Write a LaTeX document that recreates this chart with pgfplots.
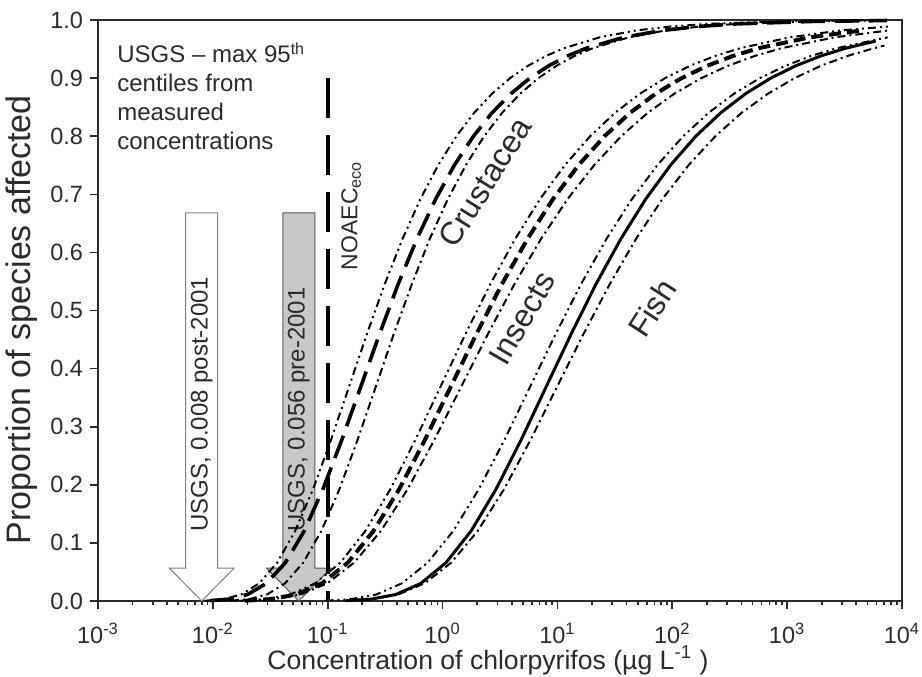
\documentclass[border=0pt]{standalone}
\usepackage{fontspec}
\setmainfont{Liberation Sans}
\usepackage{pgfplots}
\pgfplotsset{compat=1.18}
\usepackage{pgfplotstable}

\definecolor{axgray}{HTML}{2B2B2B}
\definecolor{arrowgray}{HTML}{C8C8C8}

% x values are log10 of the concentration (ug/L); p = proportion of species affected
% Crustacea (central, lower-conc bound, upper-conc bound)
\pgfplotstableread{
t p
-2.024 0.0006
-1.860 0.0032
-1.697 0.0113
-1.533 0.0305
-1.369 0.0660
-1.205 0.1204
-1.042 0.1923
-0.878 0.2769
-0.714 0.3679
-0.550 0.4589
-0.387 0.5452
-0.223 0.6235
-0.059 0.6922
0.105 0.7509
0.269 0.8000
0.432 0.8405
0.596 0.8734
0.760 0.9000
0.924 0.9212
1.087 0.9381
1.251 0.9514
1.579 0.9702
1.906 0.9819
2.234 0.9890
2.561 0.9933
3.216 0.9975
3.871 0.9991
}\crusC
\pgfplotstableread{
t p
-2.064 0.0006
-1.908 0.0032
-1.752 0.0113
-1.596 0.0305
-1.440 0.0660
-1.284 0.1204
-1.128 0.1923
-0.972 0.2769
-0.816 0.3679
-0.660 0.4589
-0.504 0.5452
-0.348 0.6235
-0.192 0.6922
-0.036 0.7509
0.120 0.8000
0.276 0.8405
0.432 0.8734
0.588 0.9000
0.744 0.9212
0.900 0.9381
1.056 0.9514
1.368 0.9702
1.680 0.9819
1.992 0.9890
2.304 0.9933
2.928 0.9975
3.552 0.9991
3.864 0.9995
}\crusL
\pgfplotstableread{
t p
-1.843 0.0006
-1.686 0.0032
-1.528 0.0113
-1.371 0.0305
-1.213 0.0660
-1.056 0.1204
-0.898 0.1923
-0.741 0.2769
-0.583 0.3679
-0.426 0.4589
-0.268 0.5452
-0.111 0.6235
0.047 0.6922
0.205 0.7509
0.362 0.8000
0.520 0.8405
0.677 0.8734
0.835 0.9000
0.992 0.9212
1.150 0.9381
1.307 0.9514
1.622 0.9702
1.937 0.9819
2.252 0.9890
2.567 0.9933
3.197 0.9975
3.827 0.9991
}\crusR
% Insects
\pgfplotstableread{
t p
-1.719 0.0006
-1.496 0.0032
-1.272 0.0113
-1.049 0.0305
-0.825 0.0660
-0.602 0.1204
-0.378 0.1923
-0.155 0.2769
0.069 0.3679
0.293 0.4589
0.516 0.5452
0.740 0.6235
0.963 0.6922
1.187 0.7509
1.410 0.8000
1.634 0.8405
1.857 0.8734
2.081 0.9000
2.304 0.9212
2.528 0.9381
2.751 0.9514
3.198 0.9702
3.645 0.9819
}\insC
\pgfplotstableread{
t p
-1.760 0.0006
-1.543 0.0032
-1.325 0.0113
-1.108 0.0305
-0.890 0.0660
-0.673 0.1204
-0.455 0.1923
-0.238 0.2769
-0.020 0.3679
0.198 0.4589
0.415 0.5452
0.633 0.6235
0.850 0.6922
1.068 0.7509
1.285 0.8000
1.503 0.8405
1.720 0.8734
1.938 0.9000
2.155 0.9212
2.373 0.9381
2.590 0.9514
3.025 0.9702
3.460 0.9819
3.895 0.9890
}\insL
\pgfplotstableread{
t p
-1.700 0.0006
-1.468 0.0032
-1.235 0.0113
-1.003 0.0305
-0.770 0.0660
-0.538 0.1204
-0.305 0.1923
-0.073 0.2769
0.160 0.3679
0.393 0.4589
0.625 0.5452
0.858 0.6235
1.090 0.6922
1.323 0.7509
1.555 0.8000
1.788 0.8405
2.020 0.8734
2.253 0.9000
2.485 0.9212
2.718 0.9381
2.950 0.9514
3.415 0.9702
3.880 0.9819
}\insR
% Fish
\pgfplotstableread{
t p
-0.840 0.0006
-0.623 0.0032
-0.405 0.0113
-0.188 0.0305
0.030 0.0660
0.248 0.1204
0.465 0.1923
0.683 0.2769
0.900 0.3679
1.118 0.4589
1.335 0.5452
1.553 0.6235
1.770 0.6922
1.988 0.7509
2.205 0.8000
2.423 0.8405
2.640 0.8734
2.858 0.9000
3.075 0.9212
3.293 0.9381
3.510 0.9514
3.771 0.9638
}\fishC
\pgfplotstableread{
t p
-1.020 0.0006
-0.798 0.0032
-0.575 0.0113
-0.353 0.0305
-0.130 0.0660
0.093 0.1204
0.315 0.1923
0.538 0.2769
0.760 0.3679
0.983 0.4589
1.205 0.5452
1.428 0.6235
1.650 0.6922
1.873 0.7509
2.095 0.8000
2.318 0.8405
2.540 0.8734
2.763 0.9000
2.985 0.9212
3.208 0.9381
3.430 0.9514
3.875 0.9702
}\fishL
\pgfplotstableread{
t p
-0.845 0.0006
-0.615 0.0032
-0.385 0.0113
-0.155 0.0305
0.075 0.0660
0.305 0.1204
0.535 0.1923
0.765 0.2769
0.995 0.3679
1.225 0.4589
1.455 0.5452
1.685 0.6235
1.915 0.6922
2.145 0.7509
2.375 0.8000
2.605 0.8405
2.835 0.8734
3.065 0.9000
3.295 0.9212
3.525 0.9381
3.755 0.9514
3.847 0.9560
}\fishR

\begin{document}
\begin{tikzpicture}
\begin{axis}[
  name=ax,
  scale only axis, width=402pt, height=290.5pt,
  xmin=-3, xmax=4, ymin=0, ymax=1,
  clip=false,
  xtick={-3,-2,-1,0,1,2,3,4},
  xticklabels={10\textsuperscript{-3},10\textsuperscript{-2},10\textsuperscript{-1},10\textsuperscript{0},10\textsuperscript{1},10\textsuperscript{2},10\textsuperscript{3},10\textsuperscript{4}},
  minor xtick={-2.69897,-2.52288,-2.39794,-2.30103,-2.22185,-2.15490,-2.09691,-2.04576,
               -1.69897,-1.52288,-1.39794,-1.30103,-1.22185,-1.15490,-1.09691,-1.04576,
               -0.69897,-0.52288,-0.39794,-0.30103,-0.22185,-0.15490,-0.09691,-0.04576,
               0.30103,0.47712,0.60206,0.69897,0.77815,0.84510,0.90309,0.95424,
               1.30103,1.47712,1.60206,1.69897,1.77815,1.84510,1.90309,1.95424,
               2.30103,2.47712,2.60206,2.69897,2.77815,2.84510,2.90309,2.95424,
               3.30103,3.47712,3.60206,3.69897,3.77815,3.84510,3.90309,3.95424},
  ytick={0,0.1,0.2,0.3,0.4,0.5,0.6,0.7,0.8,0.9,1.0},
  yticklabel style={/pgf/number format/.cd, fixed, fixed zerofill, precision=1, assume math mode=true},
  tick align=outside, xtick pos=bottom, ytick pos=left,
  major tick length=4pt, minor tick length=2pt,
  axis line style={axgray, line width=1pt},
  every tick/.style={axgray, line width=0.8pt},
  tick label style={font=\fontsize{11.75}{13}\selectfont, text=axgray},
  xticklabel style={yshift=-3.5pt},
  xlabel={Concentration of chlorpyrifos (µg L\textsuperscript{-1} )},
  ylabel={Proportion of species affected},
  x label style={font=\fontsize{13.3}{16}\selectfont, text=axgray, at={(axis description cs:0.485,-0.102)}, anchor=center},
  y label style={font=\fontsize{17}{19}\selectfont, text=axgray, at={(axis description cs:-0.0945,0.484)}, anchor=center},
]
% arrows (annotations)
\draw[draw=gray, fill=white, line width=0.5pt]
  ([xshift=-8pt]axis cs:-2.097,0.668) -- ([xshift=-8pt]axis cs:-2.097,0.0568) --
  ([xshift=-16.25pt]axis cs:-2.097,0.0568) -- (axis cs:-2.097,0) --
  ([xshift=16.25pt]axis cs:-2.097,0.0568) -- ([xshift=8pt]axis cs:-2.097,0.0568) --
  ([xshift=8pt]axis cs:-2.097,0.668) -- cycle;
\draw[draw=gray!70!black, fill=arrowgray, line width=0.5pt]
  ([xshift=-8pt]axis cs:-1.252,0.668) -- ([xshift=-8pt]axis cs:-1.252,0.0568) --
  ([xshift=-16.25pt]axis cs:-1.252,0.0568) -- (axis cs:-1.252,0) --
  ([xshift=16.25pt]axis cs:-1.252,0.0568) -- ([xshift=8pt]axis cs:-1.252,0.0568) --
  ([xshift=8pt]axis cs:-1.252,0.668) -- cycle;
\node[rotate=90, anchor=west, font=\fontsize{12}{14}\selectfont, text=axgray, inner sep=0pt] at (axis cs:-2.097,0.119) {USGS, 0.008 post-2001};
\node[rotate=90, anchor=west, font=\fontsize{12}{14}\selectfont, text=axgray, inner sep=0pt] at (axis cs:-1.252,0.119) {USGS, 0.056 pre-2001};

% NOAEC line
\addplot[black, line width=2pt, dash pattern=on 20pt off 8.5pt] coordinates {(-1,0.9) (-1,0)};

% Crustacea
\addplot[black, line width=1pt, dash pattern=on 4pt off 2pt on 1pt off 2pt on 1pt off 2pt] table[x=t, y=p] {\crusL};
\addplot[black, line width=1pt, dash pattern=on 4pt off 2pt on 1pt off 2pt] table[x=t, y=p] {\crusR};
\addplot[black, line width=1.8pt, dash pattern=on 12pt off 5pt] table[x=t, y=p] {\crusC};
% Insects
\addplot[black, line width=1pt, dash pattern=on 4pt off 2pt on 1pt off 2pt on 1pt off 2pt] table[x=t, y=p] {\insL};
\addplot[black, line width=1pt, dash pattern=on 4pt off 2pt on 1pt off 2pt] table[x=t, y=p] {\insR};
\addplot[black, line width=2pt, dash pattern=on 6pt off 3pt] table[x=t, y=p] {\insC};
% Fish
\addplot[black, line width=1pt, dash pattern=on 4pt off 2pt on 1pt off 2pt on 1pt off 2pt] table[x=t, y=p] {\fishL};
\addplot[black, line width=1pt, dash pattern=on 4pt off 2pt on 1pt off 2pt] table[x=t, y=p] {\fishR};
\addplot[black, line width=1.5pt] table[x=t, y=p] {\fishC};

% labels
\node[rotate=90, font=\fontsize{11.5}{13}\selectfont, text=axgray] at (axis cs:-0.796,0.663) {NOAEC\textsubscript{eco}};
\node[rotate=58, font=\fontsize{16}{18}\selectfont, text=axgray] at (axis cs:0.371,0.721) {Crustacea};
\node[rotate=60, font=\fontsize{16}{18}\selectfont, text=axgray] at (axis cs:0.693,0.487) {Insects};
\node[rotate=57, font=\fontsize{16}{18}\selectfont, text=axgray] at (axis cs:1.826,0.504) {Fish};
\node[anchor=north west, align=left, font=\fontsize{12}{14.5}\selectfont, text=axgray, inner sep=0pt]
  at (axis description cs:0.0236,0.962) {USGS – max 95\textsuperscript{th}\\centiles from\\measured\\concentrations};
\end{axis}
\pgfresetboundingbox
\path[use as bounding box] ([shift={(-49pt,-37.5pt)}]ax.south west) rectangle ([shift={(412pt,300.5pt)}]ax.south west);
\end{tikzpicture}
\end{document}
